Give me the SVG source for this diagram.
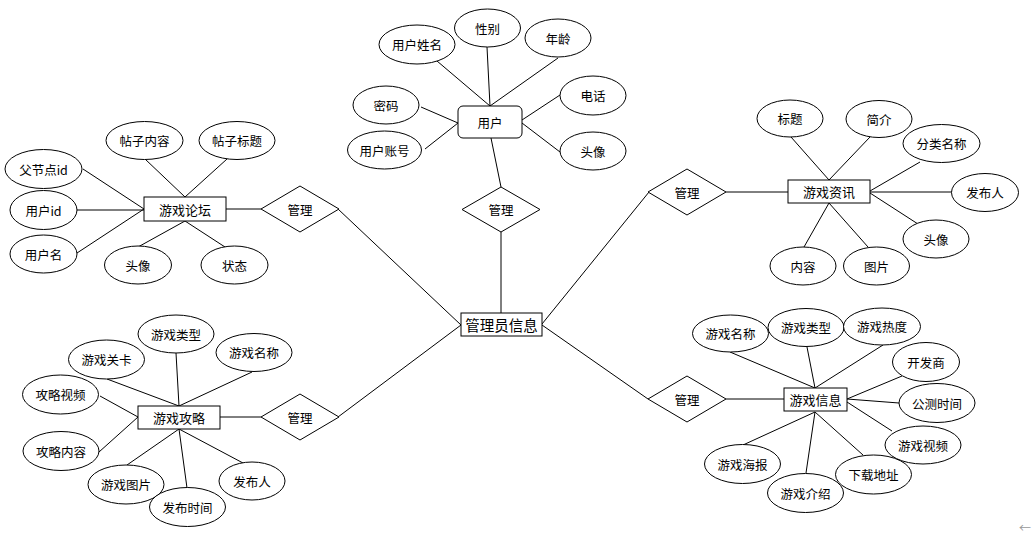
<svg xmlns="http://www.w3.org/2000/svg" width="1032" height="542" viewBox="0 0 1032 542">
<style>
text{font-family:"Noto Sans CJK SC","Liberation Sans",sans-serif;font-size:12.5px;fill:#000;text-anchor:middle;dominant-baseline:central}
.e,.r,.d{fill:#fff;stroke:#000;stroke-width:1}
.big{font-size:14.5px}
.rt{font-size:13px}
#conn line{stroke:#000;stroke-width:1}
</style>
<rect width="1032" height="542" fill="#fff"/>
<g id="conn">
<line x1="437" y1="61" x2="490" y2="106"/>
<line x1="487" y1="47" x2="490" y2="106"/>
<line x1="558" y1="58" x2="490" y2="106"/>
<line x1="421" y1="107" x2="458" y2="123"/>
<line x1="425" y1="149" x2="458" y2="123"/>
<line x1="560" y1="95" x2="522" y2="120"/>
<line x1="560" y1="152" x2="522" y2="123"/>
<line x1="491" y1="138" x2="501" y2="187"/>
<line x1="501" y1="232" x2="501" y2="313"/>
<line x1="338" y1="209" x2="461" y2="325"/>
<line x1="338" y1="417" x2="461" y2="325"/>
<line x1="649" y1="192" x2="542" y2="324"/>
<line x1="648" y1="399" x2="542" y2="325"/>
<line x1="145" y1="159" x2="185" y2="197"/>
<line x1="227" y1="159" x2="185" y2="197"/>
<line x1="83" y1="169" x2="144" y2="209"/>
<line x1="77" y1="210" x2="144" y2="210"/>
<line x1="77" y1="253" x2="144" y2="209"/>
<line x1="138" y1="247" x2="185" y2="221"/>
<line x1="225" y1="247" x2="185" y2="221"/>
<line x1="226" y1="209" x2="261" y2="209"/>
<line x1="176" y1="353" x2="179" y2="406"/>
<line x1="107" y1="379" x2="179" y2="406"/>
<line x1="252" y1="372" x2="179" y2="406"/>
<line x1="100" y1="396" x2="138" y2="417"/>
<line x1="99" y1="452" x2="138" y2="417"/>
<line x1="127" y1="465" x2="179" y2="429"/>
<line x1="187" y1="488" x2="179" y2="429"/>
<line x1="243" y1="463" x2="179" y2="429"/>
<line x1="220" y1="417" x2="261" y2="417"/>
<line x1="726" y1="192" x2="788" y2="192"/>
<line x1="791" y1="137" x2="829" y2="180"/>
<line x1="870" y1="137" x2="829" y2="180"/>
<line x1="920" y1="162" x2="870" y2="191"/>
<line x1="952" y1="192" x2="870" y2="192"/>
<line x1="918" y1="224" x2="870" y2="193"/>
<line x1="804" y1="247" x2="829" y2="203"/>
<line x1="868" y1="247" x2="829" y2="203"/>
<line x1="726" y1="399" x2="784" y2="399"/>
<line x1="730" y1="352" x2="815" y2="388"/>
<line x1="807" y1="347" x2="815" y2="388"/>
<line x1="883" y1="345" x2="815" y2="388"/>
<line x1="902" y1="376" x2="847" y2="399"/>
<line x1="899" y1="403" x2="847" y2="399"/>
<line x1="892" y1="431" x2="847" y2="402"/>
<line x1="863" y1="455" x2="815" y2="412"/>
<line x1="806" y1="473" x2="815" y2="412"/>
<line x1="743" y1="445" x2="815" y2="412"/>
</g>
<g id="admin"><rect class="r" x="461" y="313" width="81" height="23"/><text class="big" x="501.5" y="324.5">管理员信息</text></g>
<g id="user"><rect class="r" x="458" y="106" width="64" height="32" rx="5"/><text x="490" y="122">用户</text></g>
<g id="u-name"><ellipse class="e" cx="417" cy="44.5" rx="38" ry="19.5"/><text x="417" y="44.5">用户姓名</text></g>
<g id="u-sex"><ellipse class="e" cx="487.5" cy="28" rx="33" ry="19"/><text x="487.5" y="28">性别</text></g>
<g id="u-age"><ellipse class="e" cx="558" cy="38" rx="33" ry="19"/><text x="558" y="38">年龄</text></g>
<g id="u-pwd"><ellipse class="e" cx="386" cy="105" rx="33" ry="19"/><text x="386" y="105">密码</text></g>
<g id="u-acc"><ellipse class="e" cx="384.5" cy="150" rx="37" ry="19"/><text x="384.5" y="150">用户账号</text></g>
<g id="u-tel"><ellipse class="e" cx="593" cy="95.5" rx="33" ry="19.5"/><text x="593" y="95.5">电话</text></g>
<g id="u-avatar"><ellipse class="e" cx="593" cy="151" rx="33" ry="19"/><text x="593" y="151">头像</text></g>
<g id="rel-user"><polygon class="d" points="501,187 540,209.5 501,232 462,209.5"/><text x="501" y="209.5">管理</text></g>
<g id="forum"><rect class="r" x="144" y="197" width="82" height="24"/><text class="rt" x="185" y="209">游戏论坛</text></g>
<g id="f-content"><ellipse class="e" cx="144.5" cy="140.5" rx="38.5" ry="19"/><text x="144.5" y="140.5">帖子内容</text></g>
<g id="f-title"><ellipse class="e" cx="237" cy="140.5" rx="38" ry="19"/><text x="237" y="140.5">帖子标题</text></g>
<g id="f-pid"><ellipse class="e" cx="43.5" cy="169" rx="38.5" ry="19.5"/><text x="43.5" y="169">父节点id</text></g>
<g id="f-uid"><ellipse class="e" cx="43.5" cy="210" rx="33.5" ry="19.5"/><text x="43.5" y="210">用户id</text></g>
<g id="f-uname"><ellipse class="e" cx="43.5" cy="254" rx="33.5" ry="19"/><text x="43.5" y="254">用户名</text></g>
<g id="f-avatar"><ellipse class="e" cx="138" cy="265" rx="33.5" ry="19"/><text x="138" y="265">头像</text></g>
<g id="f-state"><ellipse class="e" cx="234.5" cy="265" rx="33.5" ry="19"/><text x="234.5" y="265">状态</text></g>
<g id="rel-forum"><polygon class="d" points="300,186 339,209 300,232 261,209"/><text x="300" y="209">管理</text></g>
<g id="guide"><rect class="r" x="138" y="406" width="82" height="23"/><text class="rt" x="179" y="417">游戏攻略</text></g>
<g id="g-type"><ellipse class="e" cx="176" cy="334" rx="38" ry="19"/><text x="176" y="334">游戏类型</text></g>
<g id="g-level"><ellipse class="e" cx="106.5" cy="359.5" rx="38" ry="19.5"/><text x="106.5" y="359.5">游戏关卡</text></g>
<g id="g-name"><ellipse class="e" cx="254" cy="352.5" rx="38" ry="19"/><text x="254" y="352.5">游戏名称</text></g>
<g id="g-video"><ellipse class="e" cx="60.5" cy="394.5" rx="38" ry="19.5"/><text x="60.5" y="394.5">攻略视频</text></g>
<g id="g-content"><ellipse class="e" cx="61" cy="451" rx="38" ry="19.5"/><text x="61" y="451">攻略内容</text></g>
<g id="g-pic"><ellipse class="e" cx="126" cy="484.5" rx="38" ry="19.5"/><text x="126" y="484.5">游戏图片</text></g>
<g id="g-time"><ellipse class="e" cx="187.5" cy="507" rx="38" ry="19.5"/><text x="187.5" y="507">发布时间</text></g>
<g id="g-author"><ellipse class="e" cx="252" cy="481" rx="33" ry="19"/><text x="252" y="481">发布人</text></g>
<g id="rel-guide"><polygon class="d" points="300,394 339,417 300,440 261,417"/><text x="300" y="417">管理</text></g>
<g id="news"><rect class="r" x="788" y="180" width="82" height="23"/><text class="rt" x="829" y="191.5">游戏资讯</text></g>
<g id="n-title"><ellipse class="e" cx="790" cy="118.5" rx="33" ry="18.5"/><text x="790" y="118.5">标题</text></g>
<g id="n-intro"><ellipse class="e" cx="879" cy="119" rx="33" ry="18.5"/><text x="879" y="119">简介</text></g>
<g id="n-cat"><ellipse class="e" cx="941.5" cy="143.5" rx="38.5" ry="19"/><text x="941.5" y="143.5">分类名称</text></g>
<g id="n-author"><ellipse class="e" cx="985" cy="192.5" rx="33.5" ry="19"/><text x="985" y="192.5">发布人</text></g>
<g id="n-avatar"><ellipse class="e" cx="936" cy="239" rx="33" ry="19"/><text x="936" y="239">头像</text></g>
<g id="n-content"><ellipse class="e" cx="803" cy="266" rx="33" ry="19"/><text x="803" y="266">内容</text></g>
<g id="n-pic"><ellipse class="e" cx="876.5" cy="266" rx="33" ry="19"/><text x="876.5" y="266">图片</text></g>
<g id="rel-news"><polygon class="d" points="687,169 726,192 687,215 648,192"/><text x="687" y="192">管理</text></g>
<g id="info"><rect class="r" x="784" y="388" width="63" height="23"/><text class="rt" x="815.5" y="399.5">游戏信息</text></g>
<g id="i-name"><ellipse class="e" cx="730.5" cy="333.5" rx="38" ry="18.5"/><text x="730.5" y="333.5">游戏名称</text></g>
<g id="i-type"><ellipse class="e" cx="806" cy="327.5" rx="38" ry="19"/><text x="806" y="327.5">游戏类型</text></g>
<g id="i-hot"><ellipse class="e" cx="882" cy="326.5" rx="38.5" ry="18.5"/><text x="882" y="326.5">游戏热度</text></g>
<g id="i-dev"><ellipse class="e" cx="926" cy="362" rx="33.5" ry="19.5"/><text x="926" y="362">开发商</text></g>
<g id="i-beta"><ellipse class="e" cx="937" cy="403" rx="38" ry="19.5"/><text x="937" y="403">公测时间</text></g>
<g id="i-video"><ellipse class="e" cx="923" cy="445" rx="38" ry="19"/><text x="923" y="445">游戏视频</text></g>
<g id="i-dl"><ellipse class="e" cx="873.5" cy="474.5" rx="38" ry="19.5"/><text x="873.5" y="474.5">下载地址</text></g>
<g id="i-poster"><ellipse class="e" cx="742.5" cy="464" rx="38" ry="19.5"/><text x="742.5" y="464">游戏海报</text></g>
<g id="i-intro"><ellipse class="e" cx="805.5" cy="493" rx="38" ry="19.5"/><text x="805.5" y="493">游戏介绍</text></g>
<g id="rel-info"><polygon class="d" points="687,376 726,399 687,422 648,399"/><text x="687" y="399">管理</text></g>
<text x="1025" y="527" style="font-size:12px;fill:#999">←</text>
</svg>
